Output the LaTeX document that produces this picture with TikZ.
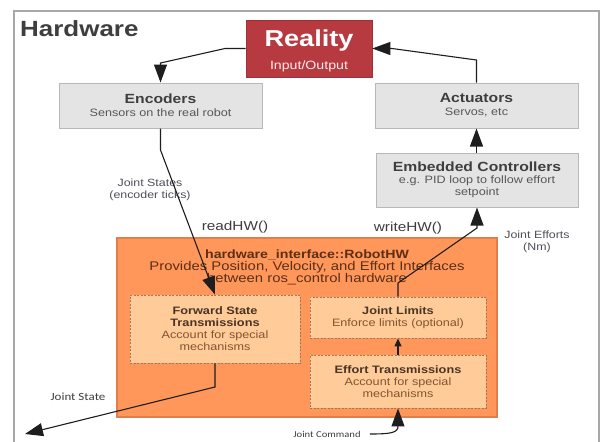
\documentclass[tikz,border=0pt]{standalone}
\usepackage{fontspec}
\setmainfont{Liberation Sans}[FakeStretch=1.18]
\newfontfamily\calib{Carlito}[FakeStretch=1.18]
\usetikzlibrary{arrows.meta}
\definecolor{realred}{HTML}{B73A40}
\definecolor{boxgray}{HTML}{E4E4E4}
\definecolor{boxedge}{HTML}{B8B8B8}
\definecolor{hwfill}{HTML}{FF975A}
\definecolor{hwedge}{HTML}{E07E4C}
\definecolor{peach}{HTML}{FFCB98}
\definecolor{peachedge}{HTML}{9C7A5C}
\definecolor{titlec}{HTML}{3E3E3E}
\definecolor{subc}{HTML}{575757}
\definecolor{hwtext}{HTML}{5C2E16}
\definecolor{intitle}{HTML}{4A3426}
\definecolor{insub}{HTML}{845430}
\definecolor{framec}{HTML}{A8A8A8}
\definecolor{linec}{HTML}{1E1E1E}
\definecolor{labc}{HTML}{4E5058}
\newcommand\myfs[2]{\fontsize{#1}{#2}\selectfont}
\begin{document}
\begin{tikzpicture}[x=1pt,y=-1pt,
  graybox/.style={draw=boxedge, fill=boxgray, line width=1pt, inner sep=0pt, align=center},
  inbox/.style={draw=peachedge, fill=peach, line width=0.9pt, dash pattern=on 2pt off 1.5pt, inner sep=0pt, align=center},
  conn/.style={draw=linec, line width=1.1pt},
  bigtip/.style={-{Triangle[length=18pt,width=13pt]}},
  smalltip/.style={-{Triangle[length=8pt,width=7pt]}},
  lab/.style={text=labc, align=center, inner sep=0pt}]
\useasboundingbox (0,0) rectangle (603,442);
\fill[white] (0,0) rectangle (603,442);
\draw[framec, line width=1.5pt] (14,442) -- (14,11) -- (599,11) -- (599,442);
\node[anchor=base west, text=titlec, inner sep=0pt] (hw) at (20,36) {\myfs{22}{25}\bfseries Hardware};

\node[fill=realred, draw=realred!85!black, line width=0.6pt, minimum width=126pt, minimum height=57pt, inner sep=0pt] (real) at (309,48.5) {};
\node[text=white, inner sep=0pt] (realt) at (309,41) {\myfs{23}{26}\bfseries Reality};
\node[text=white!92!red, inner sep=0pt] (realio) at (309,66) {\myfs{12}{14}Input/Output};

\node[graybox, minimum width=203pt, minimum height=45pt] (enc) at (160.5,105.5)
  {{\myfs{13.3}{14}\bfseries\color{titlec}Encoders}\\[1pt]{\myfs{10.7}{13}\color{subc}Sensors on the real robot}};
\node[graybox, minimum width=203pt, minimum height=45pt] (act) at (476.5,105.5)
  {{\myfs{13.3}{14}\bfseries\color{titlec}Actuators}\\[1pt]{\myfs{10.7}{13}\color{subc}Servos, etc}};
\node[graybox, minimum width=202pt, minimum height=54pt] (emb) at (477,180)
  {{\myfs{13.3}{14}\bfseries\color{titlec}Embedded Controllers}\\[0pt]{\myfs{10.7}{14.5}\color{subc}e.g. PID loop to follow effort}\\{\myfs{10.7}{14.5}\color{subc}setpoint}};

\node[fill=hwfill, draw=hwedge, line width=1.5pt, minimum width=380pt, minimum height=179pt, inner sep=0pt] (robothw) at (307,327.5) {};
\node[text=hwtext, align=center, inner sep=0pt] (hwt) at (307,267)
  {{\myfs{12}{15}\bfseries hardware\_interface::RobotHW}\\{\myfs{12.6}{15}Provides Position, Velocity, and Effort Interfaces}\\{\myfs{12.6}{15}between ros\_control hardware}};

\node[inbox, minimum width=170pt, minimum height=68pt] (fwd) at (215,329)
  {{\myfs{10.8}{14}\bfseries\color{intitle}Forward State}\\{\myfs{10.8}{14}\bfseries\color{intitle}Transmissions}\\{\myfs{10.7}{14}\color{insub}Account for special}\\{\myfs{10.7}{14}\color{insub}mechanisms}};
\node[inbox, minimum width=176pt, minimum height=41pt] (lim) at (398,317.5)
  {{\myfs{10.8}{13}\bfseries\color{intitle}Joint Limits}\\{\myfs{10.7}{13}\color{insub}Enforce limits (optional)}};
\node[inbox, minimum width=176pt, minimum height=53pt] (eff) at (398,381.5)
  {{\myfs{10.8}{14}\bfseries\color{intitle}Effort Transmissions}\\{\myfs{10.7}{14.5}\color{insub}Account for special}\\{\myfs{10.7}{14.5}\color{insub}mechanisms}};

\node[lab] (jst) at (150,190) {{\myfs{10.5}{14.5}Joint States}\\{\myfs{10.5}{14.5}(encoder ticks)}};
\node[lab, text=titlec] (rhw) at (235,227) {\myfs{13}{15}readHW()};
\node[lab, text=titlec] (whw) at (408,228) {\myfs{13}{15}writeHW()};
\node[lab] (jef) at (537,242) {{\myfs{10.5}{14}Joint Efforts}\\{\myfs{10.5}{14}(Nm)}};
\node[lab, text=titlec] (js) at (78,397) {\calib\myfs{11}{13}Joint State};
\node[lab, text=titlec] (jc) at (327,434) {\calib\myfs{9}{11}Joint Command};
\coordinate (jsend) at (25,434);

\draw[conn, bigtip] (real.west) -- (225,48.5) -- (160.5,63) -- (enc.north);
\draw[conn, bigtip] (act.north) -- (476.5,60) -- (392,48.5) -- (real.east);
\draw[conn, bigtip] (emb.north -| act.north) -- (act.south);
\draw[conn, bigtip] (enc.south) -- (160.5,150) -- (fwd.north);
\draw[conn, bigtip] (lim.north) -- (398,283) -- (477,228) -- (emb.south);
\draw[conn, smalltip] (eff.north) -- (lim.south);
\draw[conn, bigtip] (fwd.south) -- (215,387) -- (jsend);
\draw[conn, bigtip] ([xshift=9pt]jc.east) .. controls (390,434) and (398,433) .. (eff.south);
\end{tikzpicture}
\end{document}
